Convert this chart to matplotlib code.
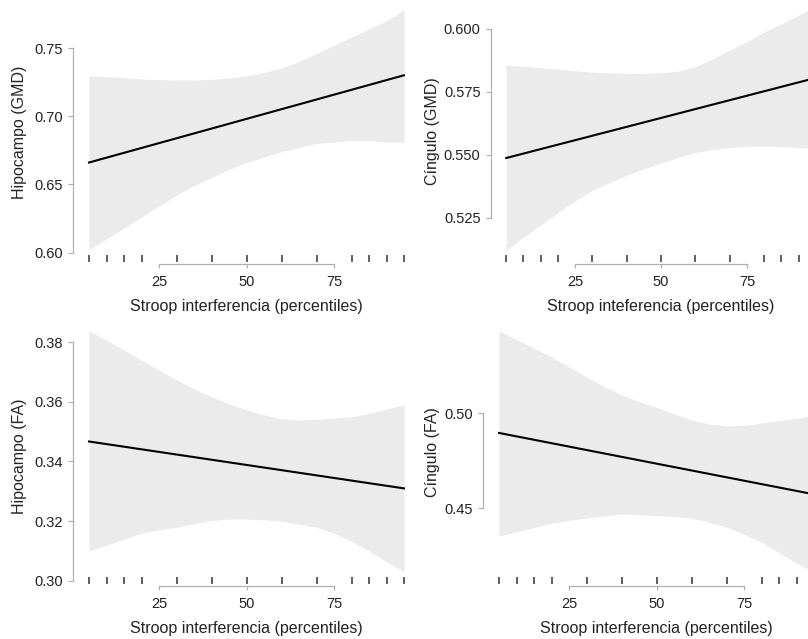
import numpy as np
import matplotlib
matplotlib.use("Agg")
import matplotlib.pyplot as plt

plt.rcParams['font.family'] = ['Liberation Sans', 'DejaVu Sans']

# percentiles where the confidence band was read
pct = [5, 10, 15, 20, 25, 30, 35, 40, 45, 50, 55, 60, 65, 70, 75, 80, 85, 90, 95]
# rug positions (observed percentiles)
rug = [5, 10, 15, 20, 30, 40, 50, 60, 70, 80, 85, 90, 95]
line_x = [5, 95]

hip_gmd_up = [0.7296, 0.7290, 0.7282, 0.7272, 0.7268, 0.7266, 0.7266, 0.7270, 0.7280, 0.7296,
              0.7320, 0.7354, 0.7400, 0.7460, 0.7520, 0.7580, 0.7640, 0.7700, 0.7780]
hip_gmd_lo = [0.602, 0.610, 0.618, 0.626, 0.634, 0.642, 0.649, 0.655, 0.661, 0.666,
              0.670, 0.674, 0.677, 0.680, 0.681, 0.682, 0.682, 0.681, 0.681]
hip_gmd_fit = [0.666, 0.730]

cin_gmd_up = [0.5857, 0.5852, 0.5846, 0.5840, 0.5834, 0.5829, 0.5826, 0.5824, 0.5824, 0.5826,
              0.5833, 0.5850, 0.5880, 0.5917, 0.5950, 0.5988, 0.6020, 0.6055, 0.6090]
cin_gmd_lo = [0.5123, 0.5173, 0.5222, 0.5270, 0.5318, 0.5360, 0.5390, 0.5420, 0.5445, 0.5468,
              0.5490, 0.5510, 0.5522, 0.5530, 0.5534, 0.5535, 0.5533, 0.5530, 0.5525]
cin_gmd_fit = [0.5488, 0.5806]

hip_fa_up = [0.3837, 0.3806, 0.3773, 0.3740, 0.3706, 0.3673, 0.3643, 0.3617, 0.3593, 0.3573,
             0.3556, 0.3543, 0.3539, 0.3541, 0.3545, 0.3550, 0.3561, 0.3575, 0.3590]
hip_fa_lo = [0.3100, 0.3120, 0.3140, 0.3160, 0.3171, 0.3180, 0.3192, 0.3203, 0.3207, 0.3207,
             0.3205, 0.3200, 0.3190, 0.3180, 0.3160, 0.3133, 0.3100, 0.3065, 0.3030]
hip_fa_fit = [0.3467, 0.3310]

cin_fa_up = [0.5432, 0.5387, 0.5341, 0.5295, 0.5243, 0.5190, 0.5140, 0.5095, 0.5060, 0.5030,
             0.4995, 0.4963, 0.4942, 0.4932, 0.4935, 0.4947, 0.4960, 0.4973, 0.4985]
cin_fa_lo = [0.4353, 0.4375, 0.4398, 0.4420, 0.4435, 0.4447, 0.4458, 0.4468, 0.4465, 0.4460,
             0.4455, 0.4447, 0.4425, 0.4400, 0.4362, 0.4320, 0.4265, 0.4210, 0.4160]
cin_fa_fit = [0.4895, 0.4572]

W, H = 808, 639
fig = plt.figure(figsize=(W / 100, H / 100), dpi=100)

SPINE = '#b0b0b0'


def panel(box, xcal, ycal, yticks, ylabels, ylab, xlab, up, lo, fit, ylab_x, ylab_y, xlab_y):
    l, r, t, b = box
    ax = fig.add_axes([l / W, 1 - b / H, (r - l) / W, (b - t) / H])
    # x calibration: two values and their pixel columns
    (xv1, xp1), (xv2, xp2) = xcal
    sx = (xv2 - xv1) / (xp2 - xp1)
    ax.set_xlim(xv1 + (l - xp1) * sx, xv1 + (r - xp1) * sx)
    (yv1, yp1), (yv2, yp2) = ycal
    sy = (yv2 - yv1) / (yp1 - yp2)
    ax.set_ylim(yv1 - (b - yp1) * sy, yv1 + (yp1 - t) * sy)

    ax.fill_between(pct, lo, up, color='#ebebeb', lw=0, zorder=1)
    ax.plot(line_x, fit, color='black', lw=1.5, zorder=3)
    hpx = b - t
    ax.vlines(rug, 2 / hpx, 9 / hpx, transform=ax.get_xaxis_transform(),
              color='#444444', lw=1.2, zorder=2)

    for s in ['top', 'right']:
        ax.spines[s].set_visible(False)
    ax.spines['left'].set_bounds(yticks[0], yticks[-1])
    ax.spines['bottom'].set_bounds(25, 75)
    for s in ['left', 'bottom']:
        ax.spines[s].set_color(SPINE)
        ax.spines[s].set_linewidth(0.9)
    ax.set_xticks([25, 50, 75])
    ax.set_yticks(yticks)
    ax.set_yticklabels(ylabels)
    ax.tick_params(axis='both', colors=SPINE, labelcolor='#222222', labelsize=10.5,
                   length=3.5, width=0.9)
    ax.tick_params(axis='y', pad=4)
    ax.tick_params(axis='x', length=3, pad=5)
    ax.patch.set_alpha(0)

    fig.text(ylab_x / W, 1 - ylab_y / H, ylab, rotation=90, ha='center', va='center',
             fontsize=11.5, color='#222222')
    x50 = l + (50 - ax.get_xlim()[0]) / sx
    fig.text(x50 / W, 1 - xlab_y / H, xlab, ha='center', va='center',
             fontsize=11.5, color='#222222')
    return ax


panel((73, 405, 5, 264), ((25, 159), (75, 334)), ((0.60, 252.5), (0.75, 48)),
      [0.60, 0.65, 0.70, 0.75], ['0.60', '0.65', '0.70', '0.75'],
      'Hipocampo (GMD)', 'Stroop interferencia (percentiles)',
      hip_gmd_up, hip_gmd_lo, hip_gmd_fit, 20, 132, 306)

panel((491, 816, 5, 264), ((25, 575), (75, 747)), ((0.525, 218), (0.600, 29)),
      [0.525, 0.550, 0.575, 0.600], ['0.525', '0.550', '0.575', '0.600'],
      'Cíngulo (GMD)', 'Stroop inteferencia (percentiles)',
      cin_gmd_up, cin_gmd_lo, cin_gmd_fit, 432, 131, 306)

panel((73, 405, 325, 586), ((25, 159), (75, 334)), ((0.30, 581), (0.38, 342)),
      [0.30, 0.32, 0.34, 0.36, 0.38], ['0.30', '0.32', '0.34', '0.36', '0.38'],
      'Hipocampo (FA)', 'Stroop interferencia (percentiles)',
      hip_fa_up, hip_fa_lo, hip_fa_fit, 20, 456, 629)

panel((483, 816, 325, 586), ((25, 569), (75, 744)), ((0.45, 508), (0.50, 413)),
      [0.45, 0.50], ['0.45', '0.50'],
      'Cíngulo (FA)', 'Stroop interferencia (percentiles)',
      cin_fa_up, cin_fa_lo, cin_fa_fit, 432, 452, 629)

fig.savefig('out.png', dpi=100)
